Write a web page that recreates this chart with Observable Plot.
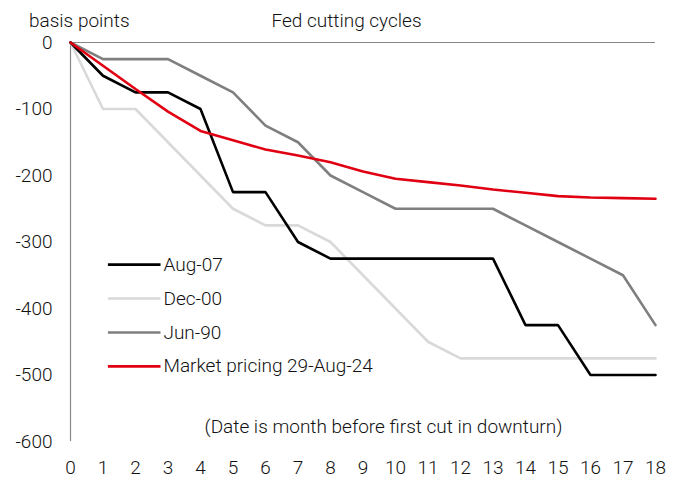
<!DOCTYPE html>
<html>
<head>
<meta charset="utf-8">
<script src="https://cdn.jsdelivr.net/npm/d3@7"></script>
<script src="https://cdn.jsdelivr.net/npm/@observablehq/plot@0.6"></script>
<style>
  html, body { margin: 0; padding: 0; background: #fff; }
  #chart svg { display: block; }
</style>
</head>
<body>
<div id="chart"></div>
<script>
const months = [0,1,2,3,4,5,6,7,8,9,10,11,12,13,14,15,16,17,18];
const seriesNames = ["Aug-07", "Dec-00", "Jun-90", "Market pricing 29-Aug-24"];
const aug07  = [0,-50,-75,-75,-100,-225,-225,-300,-325,-325,-325,-325,-325,-325,-425,-425,-500,-500,-500];
const dec00  = [0,-100,-100,-150,-200,-250,-275,-275,-300,-350,-400,-450,-475,-475,-475,-475,-475,-475,-475];
const jun90  = [0,-25,-25,-25,-50,-75,-125,-150,-200,-225,-250,-250,-250,-250,-275,-300,-325,-350,-425];
const market = [0,-35,-70,-104,-133,-147,-161,-170,-180,-194,-205,-210,-215,-221,-226,-231,-233,-234,-235];
const yTicks = [0,-100,-200,-300,-400,-500,-600];
const colors = ["#000000", "#d9d9d9", "#7f7f7f", "#e00012"];
const title = "Fed cutting cycles";
const yLabel = "basis points";
const note = "(Date is month before first cut in downturn)";

const valuesBySeries = [aug07, dec00, jun90, market];
const rows = [];
seriesNames.forEach((s, i) => months.forEach((m, j) => rows.push({series: s, month: m, value: valuesBySeries[i][j]})));

// draw order: Dec-00, Jun-90, Aug-07, Market
const drawOrder = ["Dec-00", "Jun-90", "Aug-07", "Market pricing 29-Aug-24"];

// legend placement (in data units)
const legend = seriesNames.map((s, i) => ({series: s, y: -334 - i * 51}));

const FONT = "Roboto, 'Liberation Sans', sans-serif";

const chart = Plot.plot({
  width: 679,
  height: 481,
  marginLeft: 70,
  marginRight: 24,
  marginTop: 42,
  marginBottom: 40,
  style: {fontFamily: FONT, fontSize: "19px", fontWeight: 300, color: "#111", background: "#fff"},
  x: {domain: [0, 18], label: null},
  y: {domain: [-600, 0], label: null},
  color: {domain: seriesNames, range: colors},
  marks: [
    Plot.axisX({ticks: months, tickSize: 0, tickPadding: 19, tickFormat: d => String(d), fontSize: 19, label: null}),
    Plot.axisY({ticks: yTicks, tickSize: 0, tickPadding: 18, tickFormat: d => String(d), fontSize: 19, label: null}),
    Plot.ruleX([0], {stroke: "#888", strokeWidth: 1.2}),
    Plot.ruleY([0], {stroke: "#888", strokeWidth: 1.2}),
    ...drawOrder.map(s => Plot.line(rows.filter(r => r.series === s), {
      x: "month", y: "value", stroke: "series", strokeWidth: 2.6, strokeLinejoin: "miter"
    })),
    Plot.link(legend, {x1: 1.15, x2: 2.77, y1: "y", y2: "y", stroke: "series", strokeWidth: 2.6}),
    Plot.text(legend, {x: 2.86, y: "y", text: "series", textAnchor: "start", fontSize: 19, fill: "#111"}),
    Plot.text([yLabel], {frameAnchor: "top-left", dx: -41.5, dy: -22, textAnchor: "start", lineAnchor: "middle", fontSize: 19, fill: "#111"}),
    Plot.text([title], {frameAnchor: "top-left", dx: 276, dy: -22, textAnchor: "middle", lineAnchor: "middle", fontSize: 19, fill: "#111"}),
    Plot.text([note], {frameAnchor: "bottom-left", dx: 313, dy: -15, textAnchor: "middle", lineAnchor: "middle", fontSize: 19, fill: "#111"})
  ]
});
document.getElementById("chart").appendChild(chart);
</script>
</body>
</html>
